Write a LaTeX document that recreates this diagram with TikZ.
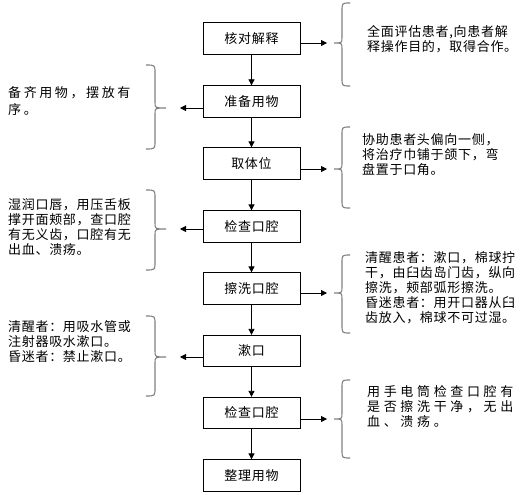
\documentclass[tikz,border=0pt]{standalone}
\usepackage{fontspec}
\newfontfamily\cjk[LetterSpace=5.4]{Noto Sans CJK SC}
\usetikzlibrary{arrows.meta}
\newcommand\curlybrace[6]{%
  \draw[bracer] (#3,#4) .. controls (#2,#4) .. (#2,#4+8) -- (#2,#5-6)
    .. controls (#2,#5) .. (#1,#5) .. controls (#2,#5) .. (#2,#5+6)
    -- (#2,#6-8) .. controls (#2,#6) .. (#3,#6);}
\begin{document}
\begin{tikzpicture}[x=1pt,y=-1pt,
  stepbox/.style={draw, line width=0.8pt, minimum width=97pt, minimum height=31.5pt, inner sep=0pt, font=\cjk\fontsize{13}{15}\selectfont},
  note/.style={inner sep=0pt, anchor=north west, align=left, font=\cjk\fontsize{13}{15}\selectfont},
  flow/.style={line width=0.8pt, -{Triangle[length=6pt,width=6pt]}},
  bracer/.style={gray, line width=1.1pt},
]
\useasboundingbox (0,0) rectangle (525,495);
\fill[white] (0,0) rectangle (525,495);

% main steps
\node[stepbox] (b1) at (251.5,38.5) {核对解释};
\node[stepbox] (b2) at (251.5,101.5) {准备用物};
\node[stepbox] (b3) at (251.5,163.5) {取体位};
\node[stepbox] (b4) at (251.5,226.5) {检查口腔};
\node[stepbox] (b5) at (251.5,288.5) {擦洗口腔};
\node[stepbox] (b6) at (251.5,351) {漱口};
\node[stepbox] (b7) at (251.5,413) {检查口腔};
\node[stepbox] (b8) at (251.5,475.5) {整理用物};

\draw[flow] (b1) -- (b2);
\draw[flow] (b2) -- (b3);
\draw[flow] (b3) -- (b4);
\draw[flow] (b4) -- (b5);
\draw[flow] (b5) -- (b6);
\draw[flow] (b6) -- (b7);
\draw[flow] (b7) -- (b8);

% side arrows
\coordinate (r1) at (327,43);
\coordinate (r3) at (327,169);
\coordinate (r5) at (327,293);
\coordinate (r7) at (327,419);
\coordinate (l2) at (180,108);
\coordinate (l4) at (180,229);
\coordinate (l6) at (180,357);
\draw[flow] (b1.east |- r1) -- (r1);
\draw[flow] (b3.east |- r3) -- (r3);
\draw[flow] (b5.east |- r5) -- (r5);
\draw[flow] (b7.east |- r7) -- (r7);
\draw[flow] (b2.west |- l2) -- (l2);
\draw[flow] (b4.west |- l4) -- (l4);
\draw[flow] (b6.west |- l6) -- (l6);

% braces
\curlybrace{334}{342}{350}{3}{43}{86}
\curlybrace{334}{342}{350}{127}{169}{208}
\curlybrace{334}{342}{350}{255}{293}{333}
\curlybrace{334}{342}{350}{380}{419}{458}
\curlybrace{166}{155}{146}{65}{108}{149}
\curlybrace{166}{155}{146}{190}{229}{270}
\curlybrace{166}{155}{146}{316}{357}{396}

% notes
\node[note] (n1) at (367,25.5) {全面评估患者,向患者解\\释操作目的，取得合作。};
\node[note] (n3) at (362,133.5) {协助患者头偏向一侧，\\将治疗巾铺于颌下，弯\\盘置于口角。};
\node[note] (n5) at (365,251.5) {清醒患者：漱口，棉球拧\\干，由臼齿岛门齿，纵向\\擦洗，颊部弧形擦洗。\\昏迷患者：用开口器从臼\\齿放入，棉球不可过湿。};
\node[note, font=\cjk\fontsize{13}{15}\selectfont\addfontfeature{LetterSpace=28}] (n7) at (367,385.5) {用手电筒检查口腔有\\是否擦洗干净，无出\\血、溃疡。};
\node[note, font=\cjk\fontsize{13}{17.5}\selectfont\addfontfeature{LetterSpace=20}] (n2) at (8,86) {备齐用物，摆放有\\序。};
\node[note] (n4) at (8,198.5) {湿润口唇，用压舌板\\撑开面颊部，查口腔\\有无义齿，口腔有无\\出血、溃疡。};
\node[note] (n6) at (8,320.5) {清醒者：用吸水管或\\注射器吸水漱口。\\昏迷者：禁止漱口。};
\end{tikzpicture}
\end{document}
